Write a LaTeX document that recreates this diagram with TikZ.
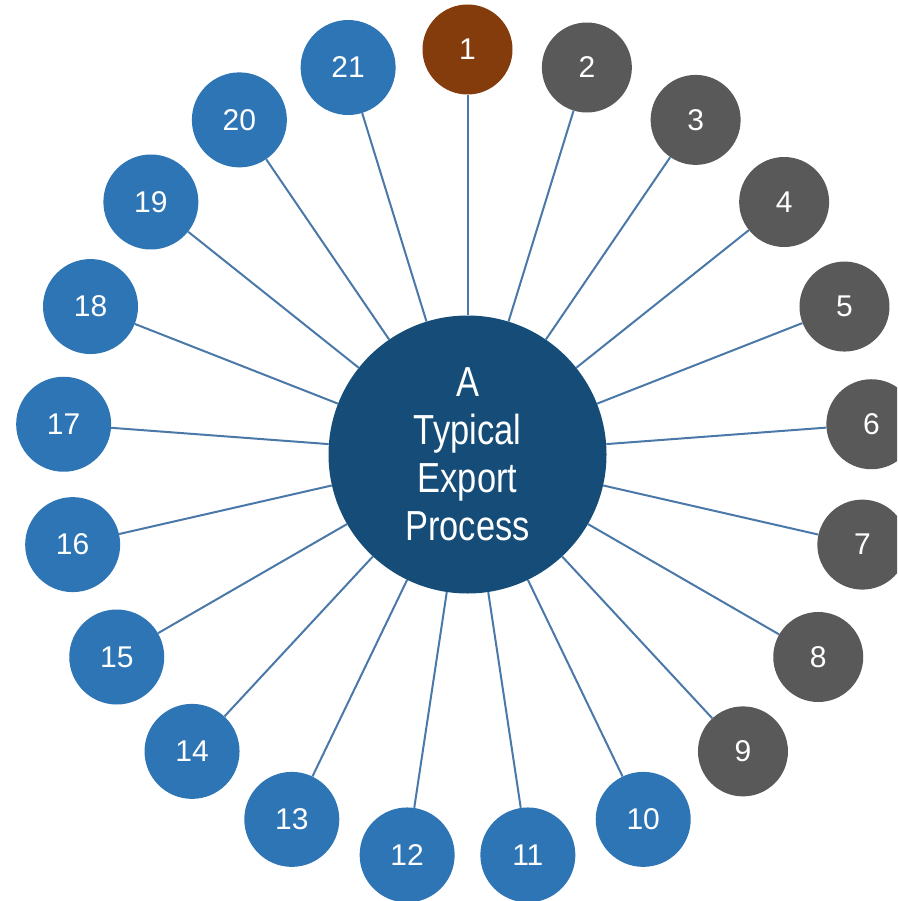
\documentclass[tikz,border=0pt]{standalone}
\usepackage{fontspec}
\setmainfont{Liberation Sans}
\newfontfamily\narrowfont{Liberation Sans}[FakeStretch=0.82]
\definecolor{cbrown}{HTML}{843C0C}
\definecolor{cgrey}{HTML}{595959}
\definecolor{cblue}{HTML}{2E75B6}
\definecolor{ccenter}{HTML}{154D78}
\definecolor{cline}{HTML}{4A78A8}
\begin{document}
\begin{tikzpicture}[x=1pt,y=-1pt,
  hub/.style={circle,fill=ccenter,minimum size=278pt,inner sep=0pt,text=white,align=center,
    font=\narrowfont\fontsize{42}{48}\selectfont},
  spoke/.style={circle,minimum size=90pt,inner sep=0pt,text=white,font=\fontsize{30}{34}\selectfont},
  bluespoke/.style={spoke,minimum size=95pt,fill=cblue},
  link/.style={draw=cline,line width=2pt}]
\useasboundingbox (0,0) rectangle (897,901);
\clip (0,0) rectangle (897,901);
\node[hub] (c) at (467.5,454.5) {A\\Typical\\Export\\Process};
\foreach \k in {1,...,21}{
  \pgfmathsetmacro{\ang}{90-(\k-1)*360/21}
  \pgfmathsetmacro{\px}{467.5+405*cos(\ang)}
  \pgfmathsetmacro{\py}{454.5-405*sin(\ang)}
  \ifnum\k=1 \def\sty{spoke,fill=cbrown}\else\ifnum\k<10 \def\sty{spoke,fill=cgrey}\else\def\sty{bluespoke}\fi\fi
  \expandafter\node\expandafter[\sty] (n\k) at (\px,\py) {\k};
  \draw[link] (c) -- (n\k);
}
\end{tikzpicture}
\end{document}
